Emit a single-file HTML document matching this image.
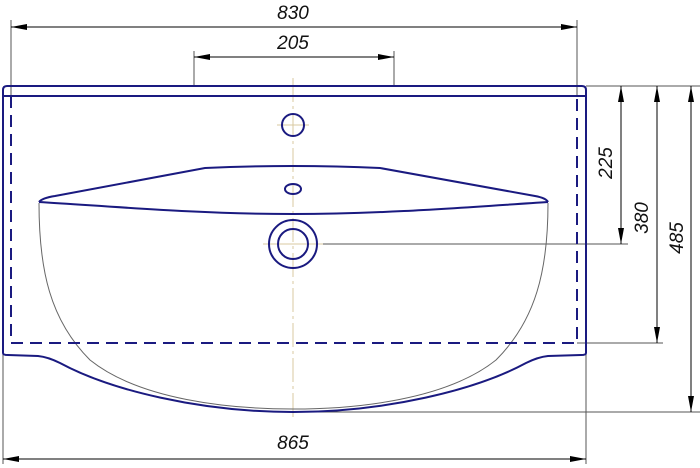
<!DOCTYPE html>
<html><head><meta charset="utf-8"><style>
html,body{margin:0;padding:0;background:#fff;}
svg{display:block;}
text{font-family:"Liberation Sans",sans-serif;font-style:italic;font-size:19px;fill:#111;}
</style></head><body>
<svg width="700" height="468" viewBox="0 0 700 468" xmlns="http://www.w3.org/2000/svg">
<defs>
<marker id="a" viewBox="0 0 16 6" refX="16" refY="3" markerWidth="16" markerHeight="6" orient="auto-start-reverse" markerUnits="userSpaceOnUse"><path d="M0,0 L16,3 L0,6 Z" fill="#000"/></marker>
</defs>
<!-- dimension thin lines -->
<g stroke="#555" stroke-width="1" fill="none">
<line x1="11" y1="20" x2="11" y2="96"/>
<line x1="577" y1="20" x2="577" y2="96"/>
<line x1="194" y1="51" x2="194" y2="86"/>
<line x1="394" y1="51" x2="394" y2="86"/>
<line x1="586" y1="86" x2="700" y2="86"/>
<line x1="293" y1="244" x2="628" y2="244"/>
<line x1="577" y1="343" x2="663" y2="343"/>
<line x1="293" y1="412" x2="700" y2="412"/>
<line x1="3" y1="353" x2="3" y2="464"/>
<line x1="586" y1="353" x2="586" y2="464"/>
</g>
<g stroke="#000" stroke-width="1" fill="none">
<line x1="11" y1="27" x2="577" y2="27" marker-start="url(#a)" marker-end="url(#a)"/>
<line x1="194" y1="57" x2="394" y2="57" marker-start="url(#a)" marker-end="url(#a)"/>
<line x1="621" y1="86" x2="621" y2="244" marker-start="url(#a)" marker-end="url(#a)"/>
<line x1="657" y1="86" x2="657" y2="343" marker-start="url(#a)" marker-end="url(#a)"/>
<line x1="691" y1="86" x2="691" y2="412" marker-start="url(#a)" marker-end="url(#a)"/>
<line x1="3" y1="459" x2="586" y2="459" marker-start="url(#a)" marker-end="url(#a)"/>
</g>
<text x="293" y="19" text-anchor="middle">830</text>
<text x="293" y="49" text-anchor="middle">205</text>
<text x="293" y="449" text-anchor="middle">865</text>
<text transform="translate(612,163) rotate(-90)" text-anchor="middle">225</text>
<text transform="translate(648,218) rotate(-90)" text-anchor="middle">380</text>
<text transform="translate(683,238) rotate(-90)" text-anchor="middle">485</text>
<!-- center lines -->
<g stroke="#d8c9a0" stroke-width="1" fill="none">
<line x1="293" y1="78" x2="293" y2="420" stroke-dasharray="24,4,3,4"/>
<line x1="277" y1="125" x2="309" y2="125"/>
<line x1="263" y1="244" x2="323" y2="244"/>
</g>
<!-- thin bowl line -->
<path d="M39,203 C39,270 50,320 90,360 C140,400 230,409 293,409 C356,409 446,400 496,360 C536,320 548,270 548,203" stroke="#666" stroke-width="1" fill="none"/>
<!-- blue outline -->
<g stroke="#1a1a80" stroke-width="2" fill="none">
<path d="M3,353 L3,90 Q3,86 7,86 L582,86 Q586,86 586,90 L586,353"/>
<line x1="3" y1="96" x2="586" y2="96"/>
<path d="M3,353 Q3,355 8,355 L38,356 Q48,357 60,363 C110,390 200,412 293,412 C386,412 476,390 526,363 Q538,357 548,356 L581,355 Q586,355 586,353"/>
<path d="M11,96 L11,343 L577,343 L577,96" stroke-dasharray="12,7"/>
<path d="M39,202 Q42,198 55,196 L205,168 Q293,164 380,168 L535,196 Q546,198 548,202"/>
<path d="M39,202 C120,207 200,214 293,214 C386,214 470,207 548,202"/>
<circle cx="293" cy="125" r="11"/>
<ellipse cx="293" cy="189" rx="8" ry="5"/>
<circle cx="293" cy="244" r="24"/>
<circle cx="293" cy="244" r="15"/>
</g>
</svg>
</body></html>
